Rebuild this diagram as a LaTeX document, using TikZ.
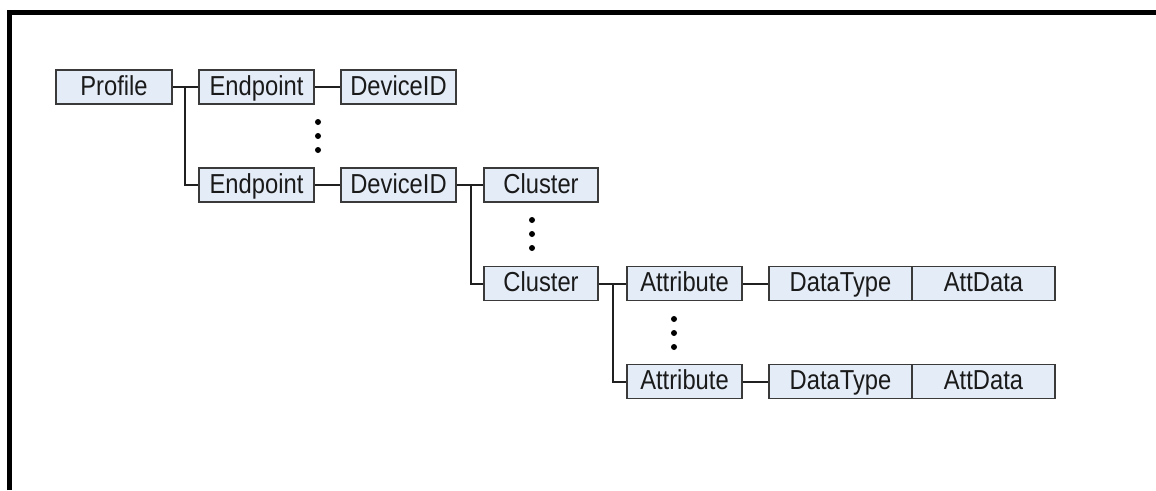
\documentclass[tikz,border=0pt]{standalone}
\usepackage{fontspec}
\usepackage{graphicx}
\setmainfont{Liberation Sans}
\newcommand{\tx}[1]{\scalebox{0.97}[1.12]{#1}}
\begin{document}
\begin{tikzpicture}[x=1pt,y=-1pt,
  box/.style={draw=boxline, fill=boxfill, line width=1.6pt, minimum height=34pt,
    inner sep=0pt, text height=19pt, text depth=3pt, text=boxtext,
    font=\fontsize{24.5}{28}\selectfont, anchor=center},
  w115/.style={box, minimum width=115pt},
  w143/.style={box, minimum width=143pt},
  conn/.style={draw=connline, line width=2pt},
  dot/.style={fill=black, draw=none}]
\definecolor{boxfill}{HTML}{E4ECF7}
\definecolor{boxline}{HTML}{3A3A3A}
\definecolor{boxtext}{HTML}{1A1A1A}
\definecolor{connline}{HTML}{202020}
\useasboundingbox (0,0) rectangle (1156,490);
% frame
\draw[line width=5pt, black] (9.5,490) -- (9.5,12) -- (1156,12);
% nodes
\node[w115, minimum width=116pt] (profile) at (114,87) {\tx{Profile}};
\node[w115] (ep1) at (256.5,87) {\tx{Endpoint}};
\node[w115] (dev1) at (398.5,87) {\tx{DeviceID}};
\node[w115] (ep2) at (256.5,185) {\tx{Endpoint}};
\node[w115] (dev2) at (398.5,185) {\tx{DeviceID}};
\node[w115, minimum width=114pt] (cl1) at (541,185) {\tx{Cluster}};
\node[w115, minimum width=114pt] (cl2) at (541,283.5) {\tx{Cluster}};
\node[w115] (at1) at (684.5,283.5) {\tx{Attribute}};
\node[w143] (dt1) at (840.5,283.5) {\tx{DataType}};
\node[w143] (ad1) at (983.5,283.5) {\tx{AttData}};
\node[w115] (at2) at (684.5,381.5) {\tx{Attribute}};
\node[w143] (dt2) at (840.5,381.5) {\tx{DataType}};
\node[w143] (ad2) at (983.5,381.5) {\tx{AttData}};
% junction coordinates
\coordinate (j1) at (185,87);
\coordinate (j2) at (471,185);
\coordinate (j3) at (613,283.5);
% connectors
\draw[conn] (profile.east) -- (ep1.west);
\draw[conn] (j1) |- (ep2.west);
\draw[conn] (ep1.east) -- (dev1.west);
\draw[conn] (ep2.east) -- (dev2.west);
\draw[conn] (dev2.east) -- (cl1.west);
\draw[conn] (j2) |- (cl2.west);
\draw[conn] (cl2.east) -- (at1.west);
\draw[conn] (j3) |- (at2.west);
\draw[conn] (at1.east) -- (dt1.west);
\draw[conn] (at2.east) -- (dt2.west);
% ellipsis dots
\foreach \y in {122,136,150} \fill[dot] (318,\y) circle (3pt);
\foreach \y in {220,234,248} \fill[dot] (532,\y) circle (3pt);
\foreach \y in {319,333,347} \fill[dot] (674,\y) circle (3pt);
\end{tikzpicture}
\end{document}
